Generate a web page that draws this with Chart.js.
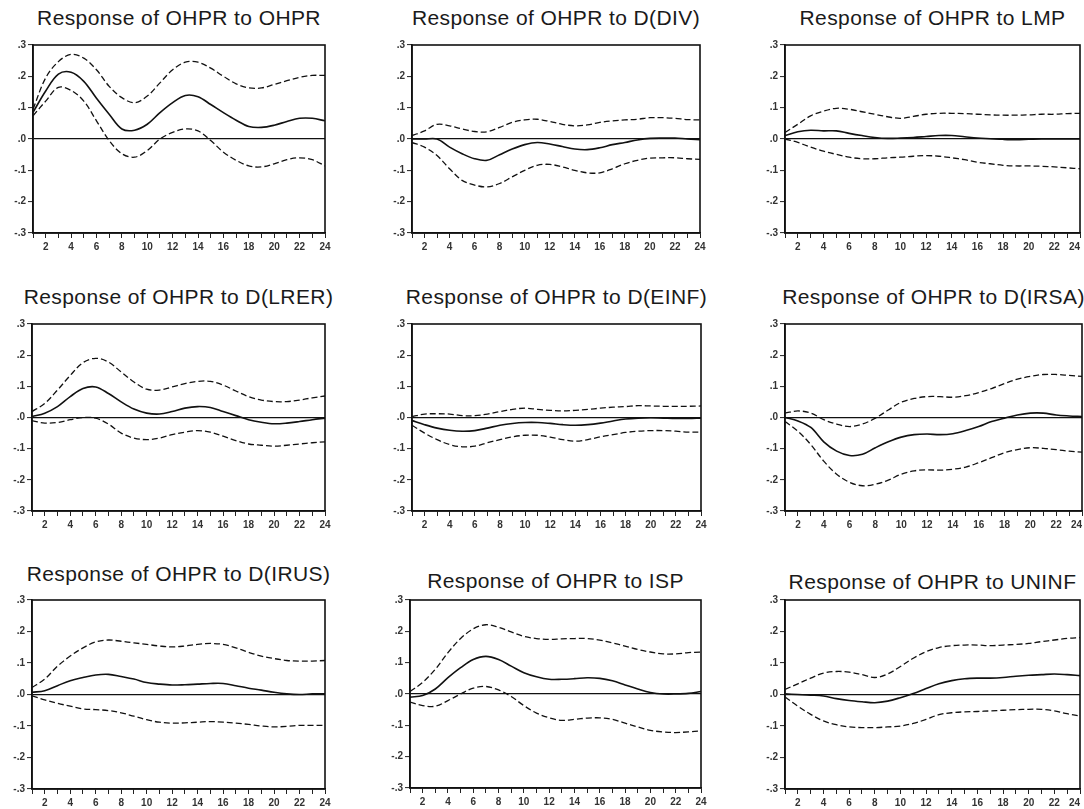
<!DOCTYPE html>
<html>
<head>
<meta charset="utf-8">
<script src="https://cdn.jsdelivr.net/npm/chart.js@4.4.1/dist/chart.umd.min.js"></script>
<style>
    html, body { margin: 0; padding: 0; background: #fff; overflow: hidden; width: 1084px; height: 809px; position: relative; font-family: "Liberation Sans", Arial, sans-serif; }
    .ttl { position: absolute; font-size: 21px; color: #1a1a1a; white-space: nowrap; letter-spacing: 0.4px; line-height: 1; transform: translateX(-50%); }
    canvas { position: absolute; }
</style>
</head>
<body>
<script>
// Impulse responses of OHPR, 24 periods, with +/- 2 S.E. bands
const periods = [1, 2, 3, 4, 5, 6, 7, 8, 9, 10, 11, 12, 13, 14, 15, 16, 17, 18, 19, 20, 21, 22, 23, 24];
const xTickLabels = ['2', '4', '6', '8', '10', '12', '14', '16', '18', '20', '22', '24'];
const yTickValues = [0.3, 0.2, 0.1, 0, -0.1, -0.2, -0.3];
const yTickLabels = ['.3', '.2', '.1', '.0', '-.1', '-.2', '-.3'];

const titles = [
    'Response of OHPR to OHPR', 'Response of OHPR to D(DIV)', 'Response of OHPR to LMP',
    'Response of OHPR to D(LRER)', 'Response of OHPR to D(EINF)', 'Response of OHPR to D(IRSA)',
    'Response of OHPR to D(IRUS)', 'Response of OHPR to ISP', 'Response of OHPR to UNINF'
];

const ohprResp  = [0.085, 0.153, 0.207, 0.213, 0.184, 0.130, 0.079, 0.032, 0.028, 0.047, 0.084, 0.116, 0.139, 0.135, 0.110, 0.084, 0.060, 0.040, 0.037, 0.044, 0.056, 0.066, 0.066, 0.058];
const ohprUpper = [0.095, 0.195, 0.247, 0.270, 0.258, 0.221, 0.168, 0.132, 0.116, 0.137, 0.179, 0.221, 0.245, 0.245, 0.226, 0.200, 0.176, 0.163, 0.163, 0.174, 0.186, 0.197, 0.203, 0.203];
const ohprLower = [0.074, 0.121, 0.165, 0.155, 0.121, 0.058, -0.005, -0.047, -0.058, -0.037, 0.000, 0.021, 0.032, 0.026, -0.005, -0.042, -0.068, -0.086, -0.089, -0.079, -0.066, -0.060, -0.066, -0.086];

const divResp  = [0.000, 0.000, 0.000, -0.026, -0.047, -0.063, -0.068, -0.050, -0.032, -0.018, -0.011, -0.016, -0.024, -0.032, -0.034, -0.028, -0.018, -0.011, -0.003, 0.002, 0.003, 0.003, 0.000, -0.002];
const divUpper = [0.011, 0.026, 0.047, 0.042, 0.032, 0.024, 0.023, 0.037, 0.053, 0.061, 0.063, 0.056, 0.047, 0.042, 0.045, 0.053, 0.058, 0.061, 0.063, 0.068, 0.068, 0.066, 0.062, 0.061];
const divLower = [-0.011, -0.026, -0.053, -0.095, -0.132, -0.147, -0.153, -0.142, -0.121, -0.100, -0.084, -0.081, -0.089, -0.100, -0.108, -0.108, -0.095, -0.079, -0.068, -0.061, -0.060, -0.060, -0.063, -0.065];

const lmpResp  = [0.011, 0.023, 0.028, 0.026, 0.026, 0.018, 0.011, 0.005, 0.002, 0.003, 0.005, 0.008, 0.011, 0.011, 0.007, 0.003, 0.001, -0.001, -0.002, -0.001, 0.000, 0.000, 0.000, 0.000];
const lmpUpper = [0.021, 0.047, 0.074, 0.089, 0.098, 0.095, 0.087, 0.079, 0.071, 0.066, 0.072, 0.079, 0.082, 0.082, 0.081, 0.079, 0.077, 0.076, 0.076, 0.077, 0.079, 0.079, 0.081, 0.082];
const lmpLower = [0.000, -0.011, -0.026, -0.039, -0.049, -0.058, -0.063, -0.063, -0.060, -0.058, -0.055, -0.053, -0.055, -0.060, -0.066, -0.074, -0.079, -0.084, -0.086, -0.086, -0.087, -0.089, -0.092, -0.095];

const lrerResp  = [0.003, 0.014, 0.035, 0.067, 0.093, 0.098, 0.077, 0.050, 0.027, 0.014, 0.011, 0.019, 0.030, 0.035, 0.032, 0.019, 0.006, -0.007, -0.015, -0.020, -0.018, -0.013, -0.007, -0.002];
const lrerUpper = [0.019, 0.045, 0.088, 0.135, 0.176, 0.190, 0.178, 0.146, 0.114, 0.091, 0.088, 0.098, 0.109, 0.116, 0.116, 0.104, 0.085, 0.067, 0.056, 0.051, 0.051, 0.056, 0.063, 0.069];
const lrerLower = [-0.010, -0.018, -0.016, -0.007, 0.000, -0.002, -0.021, -0.050, -0.066, -0.071, -0.066, -0.055, -0.047, -0.042, -0.047, -0.060, -0.074, -0.085, -0.089, -0.092, -0.089, -0.085, -0.081, -0.078];

const einfResp  = [-0.010, -0.023, -0.034, -0.041, -0.044, -0.042, -0.034, -0.025, -0.019, -0.016, -0.016, -0.019, -0.023, -0.025, -0.023, -0.018, -0.011, -0.005, -0.002, -0.001, -0.002, -0.003, -0.003, -0.002];
const einfUpper = [0.003, 0.011, 0.012, 0.011, 0.006, 0.006, 0.011, 0.019, 0.026, 0.030, 0.026, 0.023, 0.021, 0.023, 0.026, 0.030, 0.033, 0.035, 0.038, 0.037, 0.036, 0.036, 0.036, 0.037];
const einfLower = [-0.025, -0.050, -0.071, -0.087, -0.094, -0.092, -0.081, -0.071, -0.062, -0.057, -0.057, -0.063, -0.071, -0.076, -0.071, -0.062, -0.055, -0.048, -0.044, -0.042, -0.042, -0.044, -0.047, -0.047];

const irsaResp  = [0.000, -0.011, -0.032, -0.078, -0.108, -0.122, -0.118, -0.097, -0.078, -0.063, -0.055, -0.053, -0.055, -0.052, -0.042, -0.029, -0.013, -0.002, 0.008, 0.014, 0.014, 0.008, 0.005, 0.003];
const irsaUpper = [0.014, 0.021, 0.014, -0.007, -0.021, -0.029, -0.021, -0.002, 0.024, 0.049, 0.061, 0.067, 0.067, 0.065, 0.070, 0.080, 0.093, 0.109, 0.123, 0.132, 0.138, 0.138, 0.135, 0.132];
const irsaLower = [-0.013, -0.044, -0.087, -0.140, -0.182, -0.208, -0.219, -0.214, -0.201, -0.182, -0.171, -0.168, -0.169, -0.166, -0.159, -0.145, -0.129, -0.113, -0.103, -0.097, -0.099, -0.103, -0.108, -0.111];

const irusResp  = [0.007, 0.012, 0.028, 0.044, 0.054, 0.062, 0.064, 0.057, 0.049, 0.038, 0.033, 0.030, 0.031, 0.033, 0.035, 0.035, 0.028, 0.020, 0.014, 0.007, 0.002, 0.000, 0.002, 0.002];
const irusUpper = [0.022, 0.049, 0.090, 0.122, 0.148, 0.167, 0.173, 0.169, 0.164, 0.159, 0.154, 0.151, 0.154, 0.159, 0.162, 0.159, 0.148, 0.134, 0.122, 0.114, 0.108, 0.106, 0.106, 0.108];
const irusLower = [-0.004, -0.017, -0.028, -0.037, -0.046, -0.048, -0.051, -0.058, -0.069, -0.080, -0.088, -0.091, -0.090, -0.088, -0.086, -0.088, -0.091, -0.095, -0.100, -0.103, -0.101, -0.098, -0.098, -0.098];

const ispResp  = [-0.010, -0.005, 0.016, 0.052, 0.084, 0.110, 0.120, 0.110, 0.089, 0.068, 0.055, 0.047, 0.047, 0.049, 0.052, 0.050, 0.042, 0.029, 0.016, 0.005, 0.000, 0.000, 0.002, 0.008];
const ispUpper = [0.008, 0.037, 0.079, 0.132, 0.177, 0.208, 0.221, 0.213, 0.198, 0.184, 0.177, 0.174, 0.176, 0.177, 0.177, 0.172, 0.163, 0.153, 0.142, 0.134, 0.128, 0.128, 0.132, 0.134];
const ispLower = [-0.026, -0.037, -0.039, -0.021, 0.000, 0.019, 0.024, 0.013, -0.008, -0.037, -0.061, -0.076, -0.084, -0.081, -0.077, -0.076, -0.081, -0.093, -0.105, -0.116, -0.121, -0.123, -0.121, -0.118];

const uninfResp  = [0.002, 0.000, -0.002, -0.005, -0.013, -0.019, -0.023, -0.026, -0.021, -0.010, 0.003, 0.019, 0.034, 0.044, 0.050, 0.052, 0.052, 0.054, 0.058, 0.061, 0.063, 0.065, 0.063, 0.060];
const uninfUpper = [0.016, 0.034, 0.052, 0.068, 0.073, 0.071, 0.063, 0.054, 0.065, 0.089, 0.115, 0.136, 0.149, 0.155, 0.157, 0.157, 0.155, 0.157, 0.159, 0.162, 0.168, 0.173, 0.178, 0.181];
const uninfLower = [-0.008, -0.037, -0.063, -0.084, -0.096, -0.103, -0.105, -0.105, -0.103, -0.100, -0.092, -0.079, -0.064, -0.058, -0.055, -0.054, -0.052, -0.050, -0.048, -0.047, -0.047, -0.052, -0.061, -0.068];

const series = [
    [ohprResp, ohprUpper, ohprLower],
    [divResp, divUpper, divLower],
    [lmpResp, lmpUpper, lmpLower],
    [lrerResp, lrerUpper, lrerLower],
    [einfResp, einfUpper, einfLower],
    [irsaResp, irsaUpper, irsaLower],
    [irusResp, irusUpper, irusLower],
    [ispResp, ispUpper, ispLower],
    [uninfResp, uninfUpper, uninfLower]
];

// plot rectangles [left, top, right, bottom] and title centre y
const boxes = [
    [33, 43, 325, 233, 17], [412, 43, 700, 233, 17], [785, 43, 1080, 233, 17],
    [32, 322, 325, 511, 296], [412, 322, 701, 511, 296], [785, 322, 1082, 511, 296],
    [32, 598, 325, 789, 573], [410, 598, 701, 788, 580], [785, 598, 1080, 789, 581]
];

const AXIS_W = 34, AXIS_H = 22, PAD_T = 6, PAD_R = 10;
const tickFont = { family: 'Liberation Sans', size: 10, weight: 'bold' };

const framePlugin = {
    id: 'frame',
    afterDatasetsDraw(chart) {
        const a = chart.chartArea, c = chart.ctx;
        c.save();
        c.strokeStyle = '#111';
        c.lineWidth = 1.6;
        c.strokeRect(a.left, a.top, a.right - a.left, a.bottom - a.top);
        c.restore();
    }
};

function lineSet(values, dashed) {
    return {
        data: periods.map((p, i) => ({ x: p, y: values[i] })),
        borderColor: '#111',
        borderWidth: dashed ? 1.3 : 1.6,
        borderDash: dashed ? [6, 3] : [],
        pointRadius: 0,
        tension: 0.35,
        fill: false
    };
}

titles.forEach((title, i) => {
    const [L, T, R, B, ty] = boxes[i];
    const atPageEdge = i % 3 === 2;

    const t = document.createElement('div');
    t.className = 'ttl';
    t.textContent = title;
    t.style.left = ((L + R) / 2) + 'px';
    t.style.top = (ty - 10.3) + 'px';
    document.body.appendChild(t);

    const cv = document.createElement('canvas');
    const w = R - L + AXIS_W + PAD_R, h = B - T + PAD_T + AXIS_H;
    cv.width = w; cv.height = h;
    cv.style.width = w + 'px'; cv.style.height = h + 'px';
    cv.style.left = (L - AXIS_W) + 'px';
    cv.style.top = (T - PAD_T) + 'px';
    document.body.appendChild(cv);

    const [resp, up, lo] = series[i];

    new Chart(cv.getContext('2d'), {
        type: 'line',
        data: { datasets: [lineSet(up, true), lineSet(lo, true), lineSet(resp, false)] },
        options: {
            responsive: false,
            animation: false,
            layout: { padding: { top: PAD_T, right: PAD_R, left: 0, bottom: 0 } },
            plugins: { legend: { display: false }, tooltip: { enabled: false } },
            scales: {
                x: {
                    type: 'linear',
                    min: 1, max: 24,
                    afterFit: s => { s.height = AXIS_H; },
                    border: { display: true, color: '#111', width: 1.6 },
                    grid: { drawOnChartArea: false, drawTicks: true, tickLength: 5, tickColor: '#222', tickWidth: 1 },
                    ticks: {
                        stepSize: 1, autoSkip: false, maxRotation: 0, padding: 3,
                        align: atPageEdge ? 'inner' : 'center',
                        color: '#333', font: tickFont,
                        callback: v => xTickLabels.includes(String(v)) ? String(v) : ''
                    }
                },
                y: {
                    min: -0.3, max: 0.3,
                    afterFit: s => { s.width = AXIS_W; },
                    afterBuildTicks: s => { s.ticks = yTickValues.map(v => ({ value: v })); },
                    border: { display: true, color: '#111', width: 1.6 },
                    grid: {
                        drawOnChartArea: true, drawTicks: true, tickLength: 5, tickColor: '#222', tickWidth: 1,
                        color: c => (c.tick && Math.abs(c.tick.value) < 1e-9) ? '#111' : 'rgba(0,0,0,0)',
                        lineWidth: 1.2
                    },
                    ticks: {
                        padding: 2, color: '#333', font: tickFont,
                        callback: v => yTickLabels[yTickValues.findIndex(t => Math.abs(t - v) < 1e-9)]
                    }
                }
            }
        },
        plugins: [framePlugin]
    });
});
</script>
</body>
</html>
